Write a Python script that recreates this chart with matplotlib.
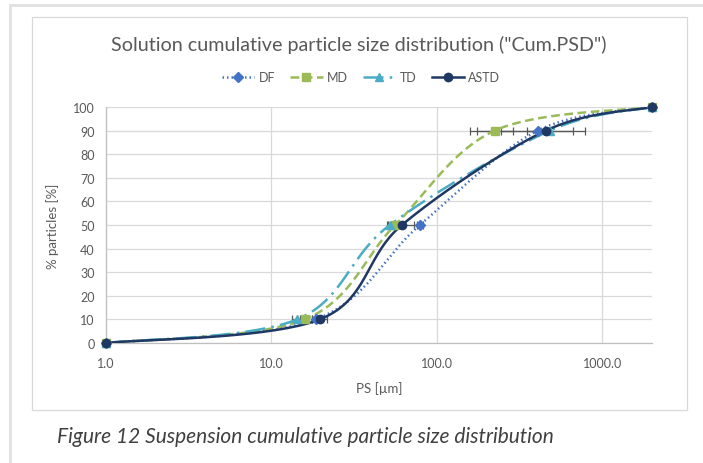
import numpy as np
import matplotlib.pyplot as plt
from matplotlib.patches import Rectangle
from matplotlib.lines import Line2D
from matplotlib.ticker import FixedLocator, FixedFormatter, NullLocator

plt.rcParams["font.family"] = ["Lato", "DejaVu Sans"]

# cumulative % and particle size [um] per sample
pct = [0, 10, 50, 90, 100]
size_DF = [1.0, 18.5, 79.0, 408.0, 2000.0]
size_MD = [1.0, 15.9, 56.0, 224.0, 2000.0]
size_TD = [1.0, 14.3, 52.0, 482.0, 2000.0]
size_ASTD = [1.0, 19.6, 61.5, 456.0, 2000.0]

# x error (absolute, um) at d10/d50/d90
err_DF = [0, 1.0, 3.0, 58.0, 0]
err_MD = [0, 1.0, 2.0, 65.0, 0]
err_TD = [0, 1.0, 2.0, 306.0, 0]
err_ASTD = [0, 2.0, 11.0, 210.0, 0]

names = ["DF", "MD", "TD", "ASTD"]
colors = ["#4472C4", "#9BBB59", "#4BACC6", "#203864"]
markers = ["D", "s", "^", "o"]
styles = [(0, (0.6, 1.2)), (0, (3.5, 1.8)), (0, (8, 2.5, 1, 2.5)), "-"]

x_ticks = [1, 10, 100, 1000]
x_labels = ["1.0", "10.0", "100.0", "1000.0"]


def smooth(xs, ys, n=40):
    # Excel-style smoothed line (bezier through the points) in log-x space
    px = np.log10(xs)
    py = np.array(ys, float)
    P = np.column_stack([px, py])
    out = []
    for i in range(len(P) - 1):
        p0 = P[i - 1] if i > 0 else P[i]
        p1 = P[i]
        p2 = P[i + 1]
        p3 = P[i + 2] if i + 2 < len(P) else P[i + 1]
        c1 = p1 + (p2 - p0) / 6
        c2 = p2 - (p3 - p1) / 6
        t = np.linspace(0, 1, n)[:, None]
        seg = (1 - t) ** 3 * p1 + 3 * (1 - t) ** 2 * t * c1 + 3 * (1 - t) * t ** 2 * c2 + t ** 3 * p2
        out.append(seg)
    out = np.vstack(out)
    return 10 ** out[:, 0], out[:, 1]


W, H = 703, 464
fig = plt.figure(figsize=(W / 100, H / 100), dpi=100)

# frames
fig.add_artist(Rectangle((9 / W, 1 - 8 / H), 1, 3 / H, transform=fig.transFigure,
                         facecolor="#E3E3E3", edgecolor="none"))
fig.add_artist(Rectangle((9 / W, 0), 3 / W, 1 - 5 / H, transform=fig.transFigure,
                         facecolor="#E3E3E3", edgecolor="none"))
fig.add_artist(Rectangle((32 / W, 1 - 411 / H), 655 / W, 393 / H, transform=fig.transFigure,
                         facecolor="none", edgecolor="#D9D9D9", lw=0.9))

ax = fig.add_axes([106 / W, 1 - 344 / H, 546 / W, 236 / H])

all_sizes = [size_DF, size_MD, size_TD, size_ASTD]
all_errs = [err_DF, err_MD, err_TD, err_ASTD]
handles = []
for s, e, name, c, m, ls in zip(all_sizes, all_errs, names, colors, markers, styles):
    ms = 6 if m != "D" else 5
    sx, sy = smooth(s, pct)
    ax.plot(sx, sy, color=c, lw=1.8, ls=ls, zorder=3)
    ax.errorbar(s[1:4], pct[1:4], xerr=e[1:4], fmt="none", ecolor="#595959",
                elinewidth=0.9, capsize=3, capthick=0.9, zorder=2)
    ax.plot(s, pct, ls="none", marker=m, color=c, ms=ms, zorder=4, clip_on=False)
    handles.append(Line2D([], [], color=c, lw=1.8, ls=ls, marker=m, ms=ms))

ax.set_xscale("log")
ax.set_xlim(1, 2000)
ax.set_ylim(0, 100)
ax.xaxis.set_major_locator(FixedLocator(x_ticks))
ax.xaxis.set_major_formatter(FixedFormatter(x_labels))
ax.xaxis.set_minor_locator(NullLocator())
ax.set_yticks(np.arange(0, 101, 10))
ax.grid(True, color="#D9D9D9", lw=0.9, zorder=0)
ax.set_axisbelow(True)
for sp in ["top", "right"]:
    ax.spines[sp].set_visible(False)
for sp in ["left", "bottom"]:
    ax.spines[sp].set_color("#BFBFBF")
    ax.spines[sp].set_linewidth(0.9)
ax.tick_params(length=0, labelsize=9, labelcolor="#595959", pad=8)
ax.tick_params(axis="x", pad=10)

ax.set_xlabel("PS [\u00b5m]", fontsize=9.5, color="#595959", labelpad=9)
ax.set_ylabel("% particles [%]", fontsize=9.5, color="#595959", labelpad=10)

fig.text(359 / W, 1 - 45 / H, 'Solution cumulative particle size distribution ("Cum.PSD")',
         ha="center", va="center", fontsize=14.2, color="#595959")
fig.legend(handles, names, loc="center", bbox_to_anchor=(361 / W, 1 - 78 / H), ncol=4,
           frameon=False, fontsize=9, labelcolor="#595959", handlelength=2.6,
           columnspacing=1.2, handletextpad=0.35)

fig.text(57 / W, 1 - 437 / H, "Figure 12 Suspension cumulative particle size distribution",
         ha="left", va="center", fontsize=15, style="italic", color="#404040")

fig.savefig("out.png", dpi=100)
